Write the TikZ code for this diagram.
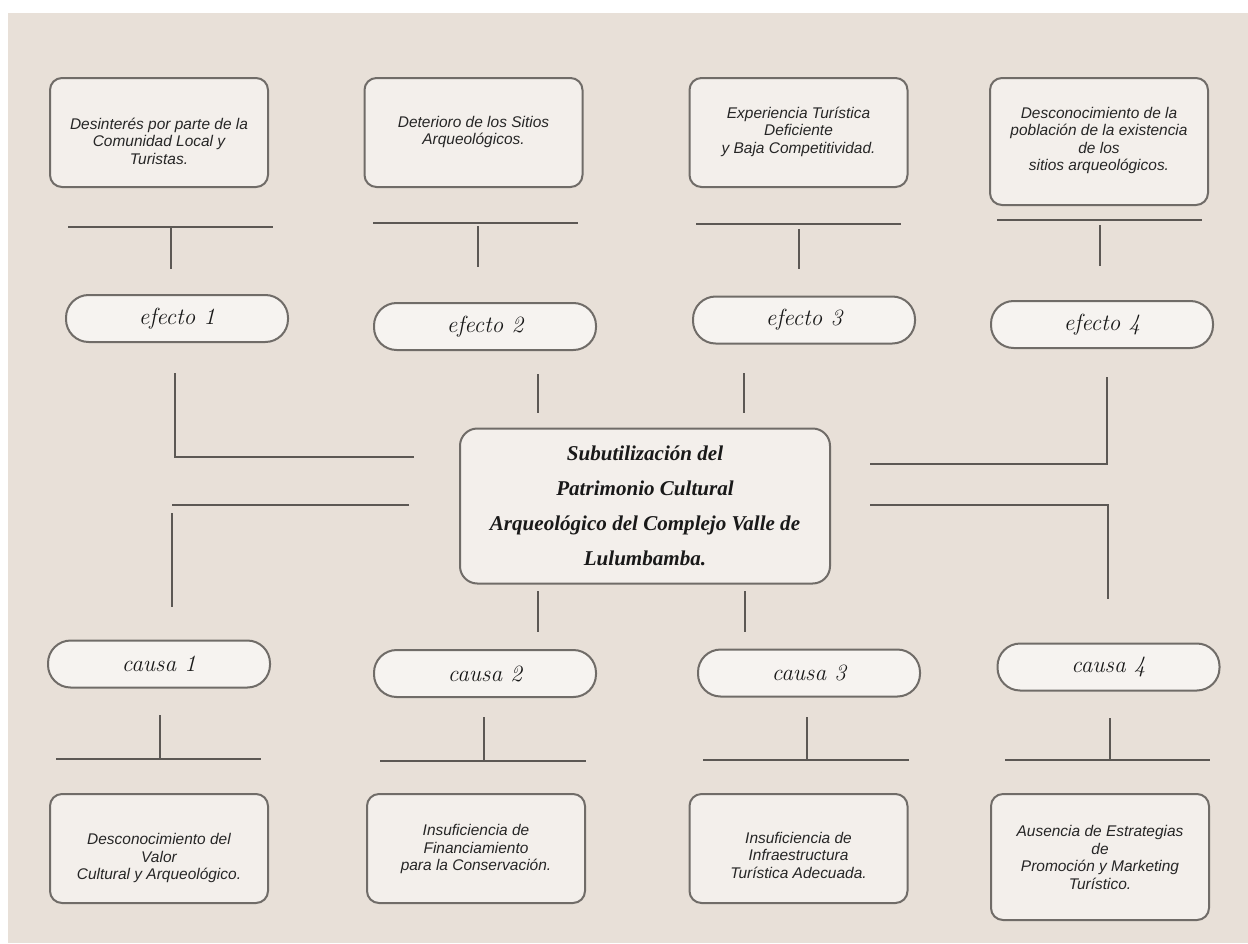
\documentclass[tikz,border=0pt]{standalone}
\usepackage{fontspec}
\newfontfamily\boxfont{Liberation Sans}
\newfontfamily\titlefont{Liberation Serif}
\definecolor{bgcol}{RGB}{232,224,216}
\definecolor{boxfill}{RGB}{243,239,235}
\definecolor{pillfill}{RGB}{246,243,240}
\definecolor{bordercol}{RGB}{112,108,104}
\definecolor{linecol}{RGB}{92,88,84}
\begin{document}
\begin{tikzpicture}[x=0.75pt,y=-0.75pt,
  descbox/.style={draw=bordercol, line width=1.5pt, fill=boxfill, rounded corners=9pt,
    minimum width=163.5pt, minimum height=81.75pt, inner sep=0pt},
  desctext/.style={font=\boxfont\itshape\fontsize{11.6}{13.1}\selectfont, align=center, text=black!85, inner sep=0pt},
  pill/.style={draw=bordercol, line width=1.5pt, fill=pillfill, rounded corners=17pt,
    minimum width=166.5pt, minimum height=35.25pt, inner sep=0pt,
    font=\itshape\fontsize{17.5}{20}\selectfont, text=black!90},
  mainbox/.style={draw=bordercol, line width=1.5pt, fill=boxfill, rounded corners=13pt,
    minimum width=277.5pt, minimum height=116.25pt, inner sep=0pt,
    font=\titlefont\bfseries\itshape\fontsize{15.8}{26.25}\selectfont, align=center, text=black!90},
  conn/.style={draw=linecol, line width=1.2pt}
]
\useasboundingbox (0,0) rectangle (1248,943);
\fill[white] (0,0) rectangle (1248,943);
\fill[bgcol] (8,13) rectangle (1248,943);

% top description boxes
\node[descbox] (d1) at (159,132.5) {};
\node[desctext] (d1t) at (159,141) {Desinterés por parte de la\\Comunidad Local y\\Turistas.};
\node[descbox] (d2) at (473.5,132.5) {};
\node[desctext] (d2t) at (473.5,132) {Deterioro de los Sitios\\Arqueológicos.};
\node[descbox] (d3) at (798.5,132.5) {};
\node[desctext] (d3t) at (798.5,131.5) {Experiencia Turística\\Deficiente\\y Baja Competitividad.};
\node[descbox, minimum height=95.25pt] (d4) at (1099,141.5) {};
\node[desctext] (d4t) at (1099,140.5) {Desconocimiento de la\\población de la existencia\\de los\\sitios arqueológicos.};

% top T connectors
\draw[conn] (68,227) -- (273,227);
\draw[conn] (171,227) -- (171,269);
\draw[conn] (373,223) -- (578,223);
\draw[conn] (478,226) -- (478,267);
\draw[conn] (696,224) -- (901,224);
\draw[conn] (799,229) -- (799,269);
\draw[conn] (997,220) -- (1202,220);
\draw[conn] (1100,225) -- (1100,266);

% effect pills
\node[pill] (e1) at (177,318.5) {efecto \oldstylenums{1}};
\node[pill] (e2) at (485,326.5) {efecto \oldstylenums{2}};
\node[pill] (e3) at (804,320) {efecto \oldstylenums{3}};
\node[pill] (e4) at (1102,324.5) {efecto \oldstylenums{4}};

% central box
\node[mainbox] (c) at (645,506) {Subutilización del\\Patrimonio Cultural\\Arqueológico del Complejo Valle de\\Lulumbamba.};

% effect connectors
\draw[conn] (175,373) -- (175,457) -- (414,457);
\draw[conn] (538,374) -- (538,413);
\draw[conn] (744,373) -- (744,413);
\draw[conn] (1107,377) -- (1107,464) -- (870,464);

% cause connectors
\draw[conn] (409,505) -- (172,505);
\draw[conn] (172,513) -- (172,607);
\draw[conn] (538,591) -- (538,632);
\draw[conn] (745,591) -- (745,632);
\draw[conn] (870,505) -- (1108,505) -- (1108,599);

% cause pills
\node[pill] (k1) at (159,664) {causa \oldstylenums{1}};
\node[pill] (k2) at (485,673.5) {causa \oldstylenums{2}};
\node[pill] (k3) at (809,673) {causa \oldstylenums{3}};
\node[pill] (k4) at (1108.5,667) {causa \oldstylenums{4}};

% bottom T connectors
\draw[conn] (160,715) -- (160,759);
\draw[conn] (56,759) -- (261,759);
\draw[conn] (484,717) -- (484,761);
\draw[conn] (380,761) -- (586,761);
\draw[conn] (807,717) -- (807,760);
\draw[conn] (703,760) -- (909,760);
\draw[conn] (1110,718) -- (1110,760);
\draw[conn] (1005,760) -- (1210,760);

% bottom description boxes
\node[descbox] (b1) at (159,848.5) {};
\node[desctext] (b1t) at (159,858) {Desconocimiento del\\Valor\\Cultural y Arqueológico.};
\node[descbox] (b2) at (476,848.5) {};
\node[desctext] (b2t) at (476,849) {Insuficiencia de\\Financiamiento\\para la Conservación.};
\node[descbox] (b3) at (798.5,848.5) {};
\node[desctext] (b3t) at (798.5,855) {Insuficiencia de\\Infraestructura\\Turística Adecuada.};
\node[descbox, minimum height=94.5pt] (b4) at (1100,857) {};
\node[desctext] (b4t) at (1100,857.5) {Ausencia de Estrategias\\de\\Promoción y Marketing\\Turístico.};
\end{tikzpicture}
\end{document}
